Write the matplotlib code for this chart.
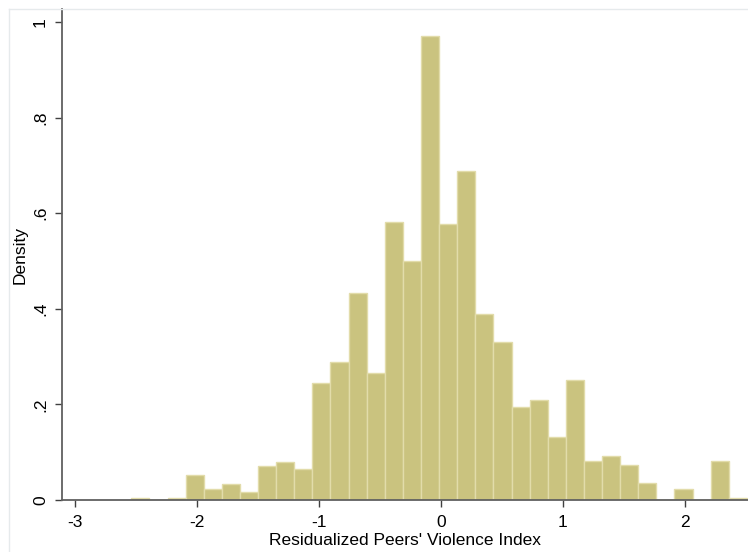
import numpy as np
import matplotlib
matplotlib.use("Agg")
import matplotlib.pyplot as plt
from matplotlib.lines import Line2D

# Histograma de densidad (estilo Stata)
x_min = -2.54
x_max = 2.512
n_bins = 34

densidad = [0.005, 0.0, 0.005, 0.053, 0.023, 0.033, 0.017, 0.071, 0.080, 0.064,
            0.245, 0.289, 0.434, 0.265, 0.582, 0.499, 0.971, 0.577, 0.689, 0.389,
            0.331, 0.195, 0.209, 0.132, 0.250, 0.081, 0.092, 0.074, 0.035, 0.0,
            0.022, 0.0, 0.081, 0.004]

x_ticks = [-3, -2, -1, 0, 1, 2]
y_ticks = [0, 0.2, 0.4, 0.6, 0.8, 1.0]
y_labels = ["0", ".2", ".4", ".6", ".8", "1"]

plt.rcParams['font.family'] = ['Liberation Sans', 'DejaVu Sans']

bordes = np.linspace(x_min, x_max, n_bins + 1)
ancho = bordes[1] - bordes[0]

fig = plt.figure(figsize=(7.48, 5.52), dpi=100)
W, H = 748, 552
ax = fig.add_axes([62 / W, 1 - 500 / H, (748 - 62) / W, (500 - 9) / H])

ax.bar(bordes[:-1], densidad, width=ancho, align='edge',
       color='#cac37f', edgecolor='#e2dcaa', linewidth=1.0)

ax.set_xlim(-3.109, 2.521)
ax.set_ylim(0, 1.027)

ax.set_xticks(x_ticks)
ax.set_xticklabels([str(t) for t in x_ticks])
ax.set_yticks(y_ticks)
ax.set_yticklabels(y_labels, rotation=90, va='center')

for s in ['top', 'right']:
    ax.spines[s].set_visible(False)
for s in ['left', 'bottom']:
    ax.spines[s].set_color('#606060')
    ax.spines[s].set_linewidth(1.3)

ax.tick_params(axis='both', direction='out', length=5, width=1,
               color='#404040', labelsize=12.5, labelcolor='black', pad=6)
ax.tick_params(axis='y', pad=5)

ax.set_xlabel("Residualized Peers' Violence Index", fontsize=12.5, labelpad=2)
ax.set_ylabel("Density", fontsize=12.5, labelpad=4)

# marco exterior claro
fig.add_artist(Line2D([9 / W, 1], [1 - 9 / H, 1 - 9 / H], transform=fig.transFigure,
                      color='#e6eaec', linewidth=1))
fig.add_artist(Line2D([9 / W, 9 / W], [0, 1 - 9 / H], transform=fig.transFigure,
                      color='#e6eaec', linewidth=1))

fig.savefig('out.png', dpi=100)
